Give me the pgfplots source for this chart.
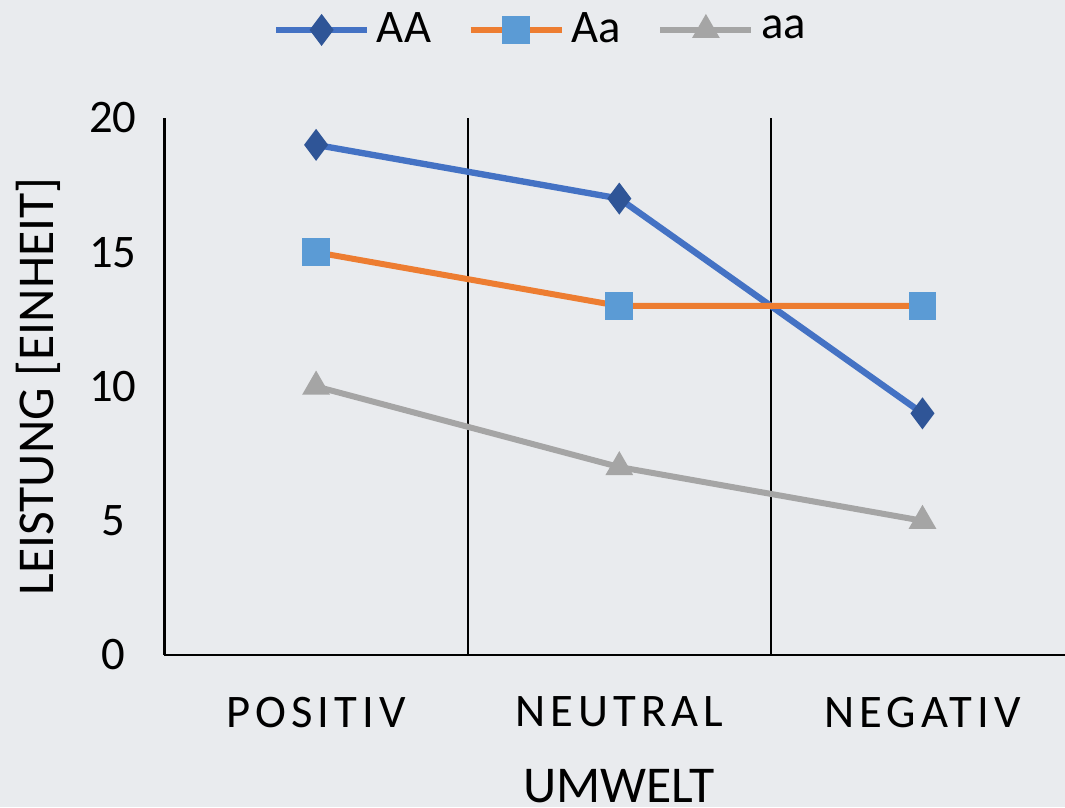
\documentclass[border=0pt]{standalone}
\usepackage{pgfplots}
\pgfplotsset{compat=1.18}
\usepackage{fontspec}
\setmainfont{Carlito}
\newfontfamily\spaced[LetterSpace=11]{Carlito}
\definecolor{bg}{HTML}{E9EBEE}
\definecolor{cAA}{HTML}{4472C4}
\definecolor{mAA}{HTML}{2F5597}
\definecolor{cAa}{HTML}{ED7D31}
\definecolor{mAa}{HTML}{5B9BD5}
\definecolor{caa}{HTML}{A5A5A5}
\begin{document}
\begin{tikzpicture}
\fill[bg] (-49.35pt,-45.6pt) rectangle (270.15pt,196.5pt);
\useasboundingbox (-49.35pt,-45.6pt) rectangle (270.15pt,196.5pt);
\begin{axis}[
  at={(0,0)}, anchor=south west,
  scale only axis,
  width=270.15pt, height=161.1pt,
  xmin=-0.5, xmax=2.47,
  ymin=0, ymax=20,
  axis lines*=left,
  axis line style={black, line width=0.7pt},
  xtick={0,1,2},
  xticklabels={POSITIV,NEUTRAL,NEGATIV},
  ytick={0,5,10,15,20},
  /pgf/number format/assume math mode=true,
  major tick length=0pt,
  extra x ticks={0.5,1.5},
  extra x tick labels={},
  extra x tick style={grid=major, major grid style={black, line width=0.6pt}},
  tick label style={font=\fontsize{14}{16}\selectfont},
  xticklabel style={font=\fontsize{14}{16}\selectfont\spaced, yshift=-9pt},
  yticklabel style={anchor=center, xshift=-15.5pt},
  xlabel={UMWELT},
  ylabel={LEISTUNG [EINHEIT]},
  label style={font=\fontsize{15.5}{18}\selectfont},
  xlabel style={at={(axis description cs:0.505,-0.245)}, anchor=center},
  ylabel style={at={(axis description cs:-0.1405,0.5)}, anchor=center, rotate=0},
  legend columns=3,
  legend style={at={(axis description cs:0.42,1.164)}, anchor=center, draw=none, fill=none,
    font=\fontsize{14}{16}\selectfont, /tikz/every even column/.append style={column sep=9pt}},
  legend image code/.code={\draw[mark repeat=2,mark phase=2] plot coordinates {(0cm,0cm)(0.48cm,0cm)(0.96cm,0cm)};},
  clip=false,
]
\addplot[color=cAA, line width=1.9pt, mark=diamond*, mark size=4.4pt, mark options={fill=mAA, draw=mAA, line width=0.5pt}]
  coordinates {(0,19) (1,17) (2,9)};
\addlegendentry{AA}
\addplot[color=cAa, line width=1.8pt, mark=square*, mark size=3.9pt, mark options={fill=mAa, draw=mAa, line width=0.5pt}]
  coordinates {(0,15) (1,13) (2,13)};
\addlegendentry{Aa}
\addplot[color=caa, line width=1.8pt, mark=triangle*, mark size=4.3pt, mark options={fill=caa, draw=caa, line width=0.5pt}]
  coordinates {(0,10) (1,7) (2,5)};
\addlegendentry{aa}
\end{axis}
\end{tikzpicture}
\end{document}
